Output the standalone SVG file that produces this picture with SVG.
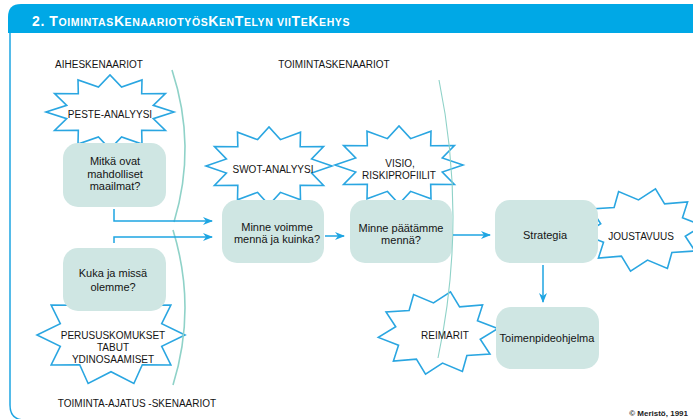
<svg xmlns="http://www.w3.org/2000/svg" xmlns:xlink="http://www.w3.org/1999/xlink" width="693" height="419" viewBox="0 0 693 419">
<style>
.box{fill:#cfe6e3}
.star{fill:#fff;stroke:#2aa6e1;stroke-width:1.6;stroke-linejoin:miter;vector-effect:non-scaling-stroke}
.t{font-family:"Liberation Sans",Arial,sans-serif;font-size:10px;fill:#141414;text-anchor:middle}
.b{font-family:"Liberation Sans",Arial,sans-serif;font-size:11px;fill:#141414;text-anchor:middle}
.conn{fill:none;stroke:#1ea5e2;stroke-width:1.5}
.curve{fill:none;stroke:#8fd2c8}
</style>
<defs>
<polygon id="s12" class="star" points="100,0 67.6,-18.1 86.6,-50 49.5,-49.5 50,-86.6 18.1,-67.6 0,-100 -18.1,-67.6 -50,-86.6 -49.5,-49.5 -86.6,-50 -67.6,-18.1 -100,0 -67.6,18.1 -86.6,50 -49.5,49.5 -50,86.6 -18.1,67.6 0,100 18.1,67.6 50,86.6 49.5,49.5 86.6,50 67.6,18.1"/>
<polygon id="s10" class="star" points="100,0 68.5,-22.2 80.9,-58.8 42.3,-58.2 30.9,-95.1 0,-72 -30.9,-95.1 -42.3,-58.2 -80.9,-58.8 -68.5,-22.2 -100,0 -68.5,22.2 -80.9,58.8 -42.3,58.2 -30.9,95.1 0,72 30.9,95.1 42.3,58.2 80.9,58.8 68.5,22.2"/>
<marker id="ah" viewBox="0 0 10 8" refX="9" refY="4" markerWidth="10" markerHeight="8" markerUnits="userSpaceOnUse" orient="auto">
<path d="M0,0 L10,4 L0,8 L3,4 Z" fill="#1ea5e2"/>
</marker>
</defs>

<g id="frame">
<path d="M8,33 V17 Q8,4 21,4 H693 V33 Z" fill="#00a8e6"/>
<path d="M10,33 V405 Q10,420 25,420 H693" fill="none" stroke="#1ea5e2" stroke-width="1.5"/>
<text x="32" y="26" font-family="Liberation Sans,Arial,sans-serif" font-weight="bold" fill="#fff" font-size="14" letter-spacing="0.5" textLength="318">2. T<tspan font-size="10.5">OIMINTAS</tspan>K<tspan font-size="10.5">ENAARIOTYÖS</tspan>K<tspan font-size="10.5">EN</tspan>T<tspan font-size="10.5">ELYN VII</tspan>T<tspan font-size="10.5">E</tspan>K<tspan font-size="10.5">EHYS</tspan></text>
</g>

<g id="section-labels">
<text class="t" x="99" y="68">AIHESKENAARIOT</text>
<text class="t" x="334" y="68">TOIMINTASKENAARIOT</text>
<text class="t" x="137" y="407">TOIMINTA-AJATUS -SKENAARIOT</text>
</g>

<g id="peste">
<use xlink:href="#s12" transform="translate(110,112) scale(0.64,0.37)"/>
<text class="t" x="110" y="118">PESTE-ANALYYSI</text>
</g>
<g id="perus">
<use xlink:href="#s10" transform="translate(111,335) scale(0.74,0.51)"/>
</g>
<g id="swot">
<use xlink:href="#s12" transform="translate(269,166) scale(0.63,0.39)"/>
<text class="t" x="273" y="173">SWOT-ANALYYSI</text>
</g>
<g id="visio">
<use xlink:href="#s12" transform="translate(399,165) scale(0.64,0.39)"/>
<text class="t" x="400" y="167">VISIO,</text>
<text class="t" x="399" y="179">RISKIPROFIILIT</text>
</g>
<g id="joustavuus">
<use xlink:href="#s10" transform="translate(643,230) scale(0.6,0.42) rotate(-6)"/>
<text class="t" x="641" y="240">JOUSTAVUUS</text>
</g>
<g id="reimarit">
<use xlink:href="#s10" transform="translate(438,333) scale(0.6,0.42) rotate(-6)"/>
</g>

<g id="mitka">
<rect class="box" x="63" y="143" width="103" height="64" rx="15"/>
<text class="b" x="115" y="165">Mitkä ovat</text>
<text class="b" x="115" y="178">mahdolliset</text>
<text class="b" x="115" y="190">maailmat?</text>
</g>
<g id="kuka">
<rect class="box" x="63" y="248" width="103" height="63" rx="15"/>
<text class="b" x="113" y="277">Kuka ja missä</text>
<text class="b" x="113" y="291">olemme?</text>
</g>
<g id="minne-voimme">
<rect class="box" x="222" y="200" width="102" height="63" rx="15"/>
<text class="b" x="277" y="231">Minne voimme</text>
<text class="b" x="277" y="243">mennä ja kuinka?</text>
</g>
<g id="minne-paatamme">
<rect class="box" x="350" y="200" width="102" height="63" rx="15"/>
<text class="b" x="401" y="232">Minne päätämme</text>
<text class="b" x="401" y="244">mennä?</text>
</g>
<g id="strategia">
<rect class="box" x="495" y="200" width="103" height="63" rx="15"/>
<text class="b" x="545" y="239">Strategia</text>
</g>
<g id="toimenpideohjelma">
<rect class="box" x="496" y="307" width="103" height="62" rx="15"/>
<text class="b" x="547" y="342">Toimenpideohjelma</text>
</g>

<g id="dividers">
<path class="curve" stroke-width="1.6" d="M172,70 Q197,146 174,222"/>
<path class="curve" stroke-width="1.6" d="M173,230 Q197,308 173,385"/>
<path class="curve" stroke-width="1.1" d="M439,80 Q467.5,219 438,358"/>
</g>

<g id="star-labels">
<text class="t" x="113" y="339">PERUSUSKOMUKSET</text>
<text class="t" x="113" y="351">TABUT</text>
<text class="t" x="113" y="363">YDINOSAAMISET</text>
<text class="t" x="445" y="339">REIMARIT</text>
</g>

<g id="connectors">
<path class="conn" d="M114,209 V221 H212" marker-end="url(#ah)"/>
<path class="conn" d="M114,243 V237 H212" marker-end="url(#ah)"/>
<path class="conn" d="M325,236 H344" marker-end="url(#ah)"/>
<path class="conn" d="M453,235 H490" marker-end="url(#ah)"/>
<path class="conn" d="M543,265 V302" marker-end="url(#ah)"/>
</g>

<text x="688" y="416" font-family="Liberation Sans,Arial,sans-serif" font-size="8" font-weight="bold" fill="#222" text-anchor="end">© Meristö, 1991</text>
</svg>
